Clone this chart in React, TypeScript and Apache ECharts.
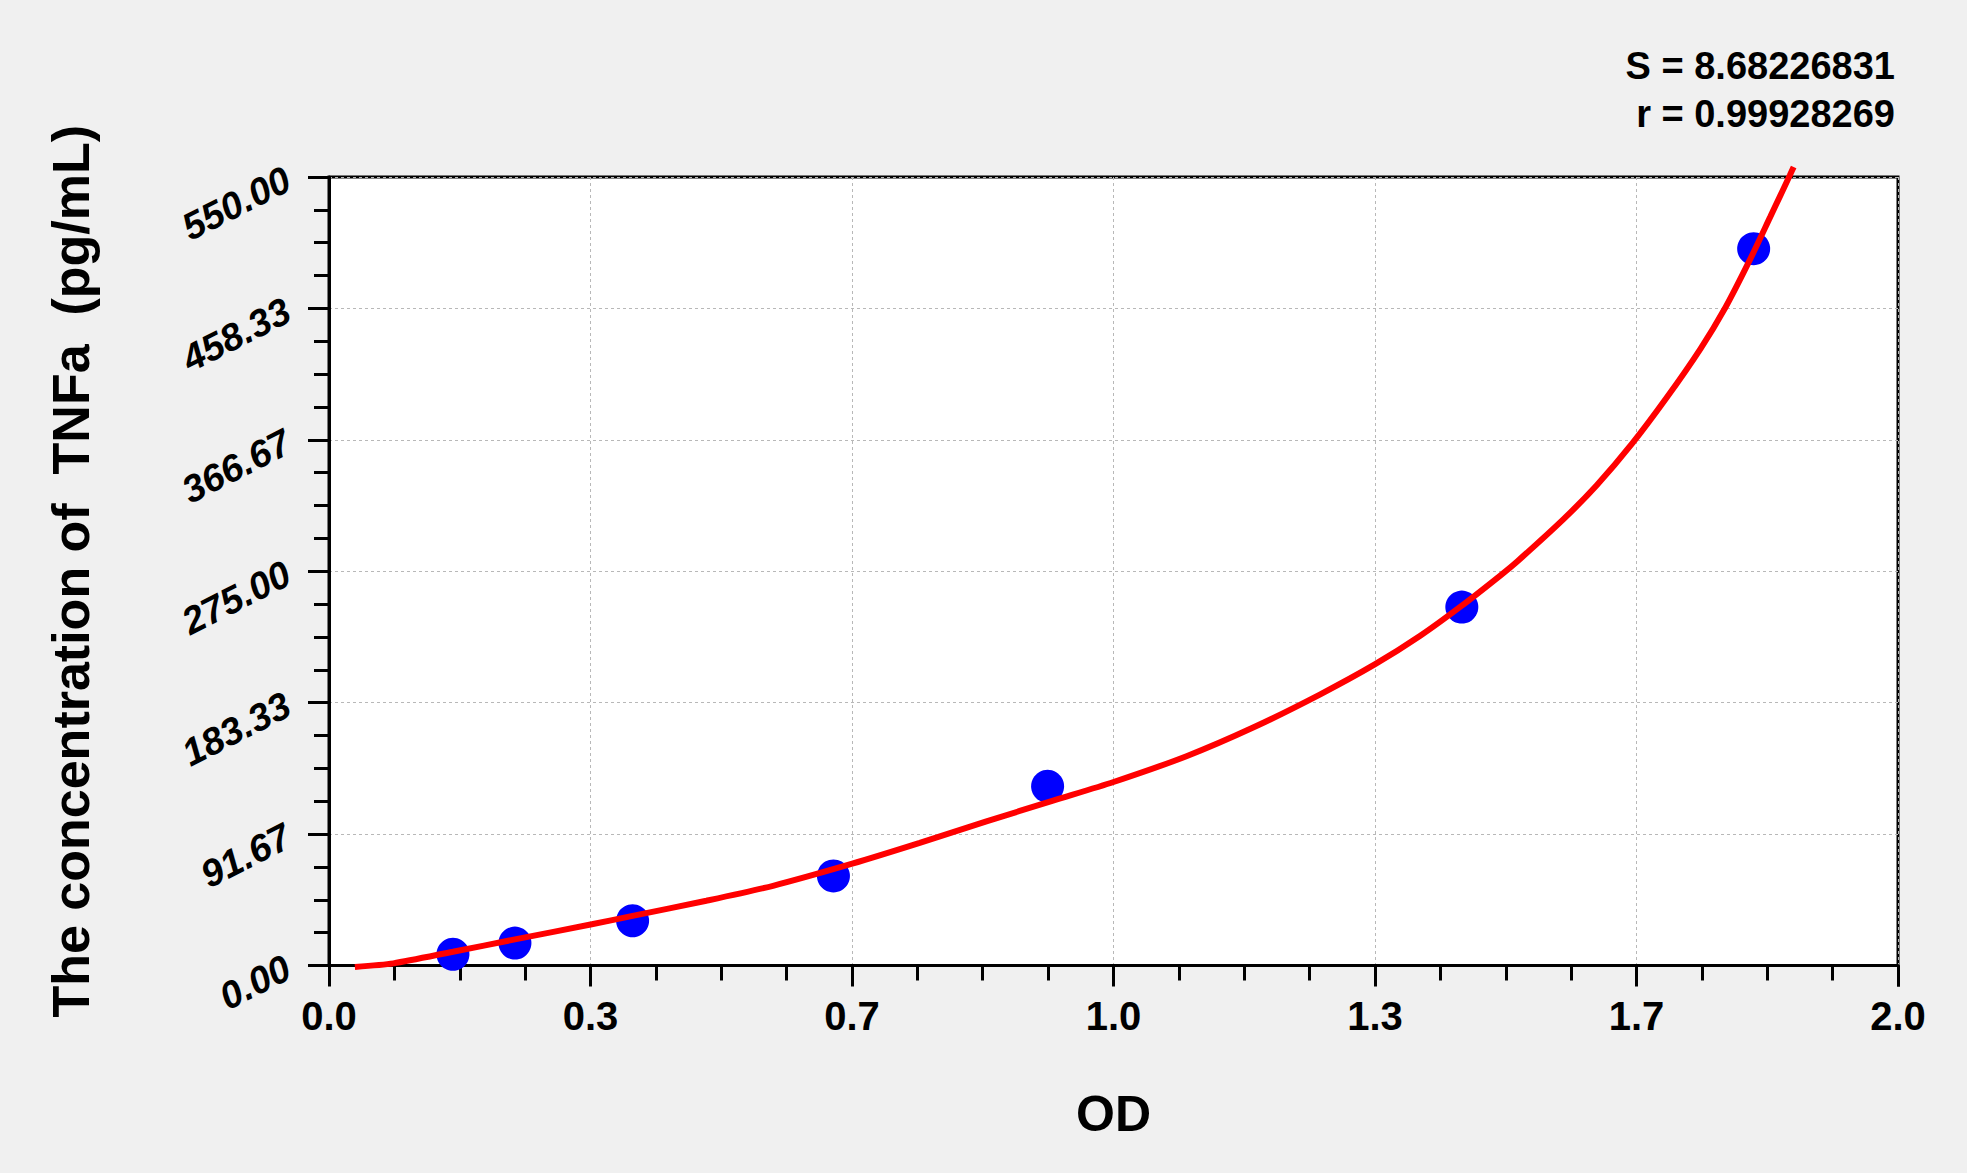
import React, { useEffect, useRef } from "react";
import * as echarts from "echarts";

// Standard points (OD, concentration pg/mL)
const odValues = [0.158, 0.237, 0.387, 0.643, 0.916, 1.444, 1.816];
const concValues = [7.81, 15.63, 31.25, 62.5, 125, 250, 500];

// Fitted curve
const curveOD = [0.033, 0.082, 0.158, 0.237, 0.335, 0.387, 0.481, 0.566, 0.667, 0.753, 0.838, 0.923, 1.0, 1.093, 1.178, 1.263, 1.333, 1.391, 1.444, 1.493, 1.515, 1.573, 1.616, 1.661, 1.705, 1.748, 1.78, 1.811, 1.837, 1.862, 1.867];
const curveConc = [-1, 1.5, 9.6, 18.2, 28.8, 34.6, 45.2, 55.6, 71.0, 85.5, 100.5, 115.0, 128.0, 146.0, 166.0, 189.0, 210.0, 230.0, 251.0, 272.0, 282.0, 311.0, 335.0, 364.0, 396.0, 430.0, 459.0, 492.0, 522.0, 551.0, 557.0];

const xTickLabels = ["0.0", "0.3", "0.7", "1.0", "1.3", "1.7", "2.0"];
const yTickLabels = ["0.00", "91.67", "183.33", "275.00", "366.67", "458.33", "550.00"];

const statLines = ["S = 8.68226831", "r = 0.99928269"];

const xName = "OD";
const yName = "The concentration of  TNFa  (pg/mL)";

const sans = "'Liberation Sans', Arial, sans-serif";

export default function App() {
  const ref = useRef<HTMLDivElement>(null);

  useEffect(() => {
    if (!ref.current) return;
    const chart = echarts.init(ref.current, undefined, { renderer: "svg" });
    const tickStyle = { color: "#000", width: 3 };
    const gridLine = { show: true, lineStyle: { color: "#b8b8b8", width: 1, type: [3, 3] as any } };
    chart.setOption({
      animation: false,
      backgroundColor: "#f0f0f0",
      grid: {
        left: 329,
        right: 69,
        top: 177,
        bottom: 207.5,
        show: true,
        backgroundColor: "#ffffff",
        borderColor: "#000",
        borderWidth: 3,
      },
      xAxis: {
        type: "value",
        min: 0,
        max: 2,
        interval: 2 / 6,
        axisLine: { show: true, onZero: false, lineStyle: tickStyle },
        axisTick: { show: true, length: 21, lineStyle: tickStyle },
        minorTick: { show: true, splitNumber: 4, length: 15, lineStyle: tickStyle },
        splitLine: gridLine,
        axisLabel: {
          margin: 30,
          fontSize: 40,
          fontWeight: "bold",
          color: "#000",
          fontFamily: sans,
          formatter: (_v: number, i: number) => xTickLabels[i] ?? "",
        },
        name: xName,
        nameLocation: "middle",
        nameGap: 123,
        nameTextStyle: { fontSize: 50, fontWeight: "bold", color: "#000", fontFamily: sans },
      },
      yAxis: {
        type: "value",
        min: 0,
        max: 550,
        interval: 550 / 6,
        axisLine: { show: true, onZero: false, lineStyle: tickStyle },
        axisTick: { show: true, length: 21, lineStyle: tickStyle },
        minorTick: { show: true, splitNumber: 4, length: 15, lineStyle: tickStyle },
        splitLine: gridLine,
        axisLabel: {
          margin: 41,
          rotate: 27,
          fontSize: 38,
          fontWeight: "bold",
          fontStyle: "italic",
          color: "#000",
          fontFamily: sans,
          formatter: (_v: number, i: number) => yTickLabels[i] ?? "",
        },
        name: yName,
        nameLocation: "middle",
        nameGap: 232,
        nameTextStyle: { fontSize: 52, fontWeight: "bold", color: "#000", fontFamily: sans },
      },
      series: [
        {
          type: "scatter",
          data: odValues.map((x, i) => [x, concValues[i]]),
          symbol: "circle",
          symbolSize: 33,
          itemStyle: { color: "#0000ff", opacity: 1 },
          z: 2,
        },
        {
          type: "line",
          data: curveOD.map((x, i) => [x, curveConc[i]]),
          showSymbol: false,
          smooth: 0.25,
          clip: false,
          lineStyle: { color: "#ff0000", width: 6 },
          z: 3,
        },
      ],
      graphic: [
        {
          type: "text",
          right: 1967 - 1895,
          top: 47,
          style: { text: statLines[0], fill: "#000", font: `bold 38px ${sans}`, textAlign: "right" },
        },
        {
          type: "text",
          right: 1967 - 1895,
          top: 95,
          style: { text: statLines[1], fill: "#000", font: `bold 38px ${sans}`, textAlign: "right" },
        },
      ],
    });
    return () => chart.dispose();
  }, []);

  return (
    <div
      ref={ref}
      style={{ position: "absolute", left: 0, top: 0, width: 1967, height: 1173 }}
    />
  );
}
